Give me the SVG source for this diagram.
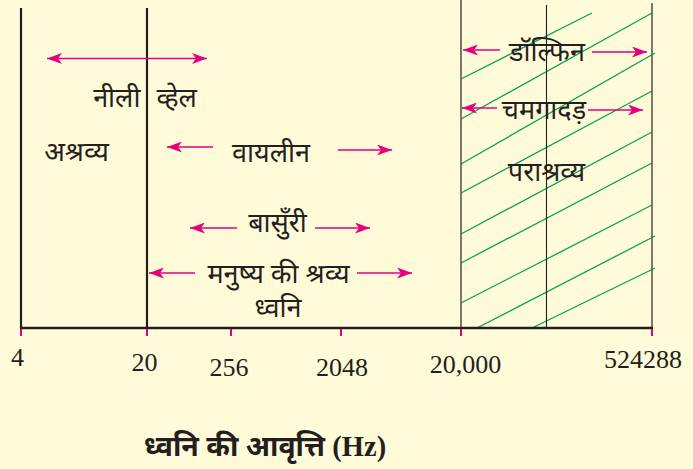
<svg xmlns="http://www.w3.org/2000/svg" width="693" height="469" viewBox="0 0 693 469">
<style>
.dv{font-family:"Noto Sans Devanagari","Lohit Devanagari","Noto Sans",sans-serif;font-size:27px;fill:#231f20;text-anchor:middle}
.num{font-family:"Liberation Serif",serif;font-size:26px;fill:#231f20;text-anchor:middle}
.arr{stroke:#e6007e;stroke-width:1.6;fill:none;marker-end:url(#ah)}
.hatch{stroke:#00a651;stroke-width:1.3;fill:none}
.tick{stroke:#e6007e;stroke-width:2}
</style>
<defs>
<marker id="ah" viewBox="0 0 15 11" refX="15" refY="5.5" markerWidth="15" markerHeight="11" markerUnits="userSpaceOnUse" orient="auto-start-reverse">
<path d="M0,0 L15,5.5 L0,11 L4,5.5 z" fill="#e6007e"/>
</marker>
</defs>
<rect width="693" height="469" fill="#fffad8"/>
<g id="hatching">
<line class="hatch" x1="461" y1="79" x2="592" y2="13"/>
<line class="hatch" x1="461" y1="119" x2="652" y2="13"/>
<line class="hatch" x1="461" y1="164" x2="655" y2="53"/>
<line class="hatch" x1="461" y1="193" x2="652" y2="91"/>
<line class="hatch" x1="461" y1="234" x2="652" y2="132"/>
<line class="hatch" x1="461" y1="263" x2="652" y2="163"/>
<line class="hatch" x1="461" y1="303" x2="652" y2="205"/>
<line class="hatch" x1="477" y1="328" x2="655" y2="236"/>
<line class="hatch" x1="532" y1="328" x2="655" y2="268"/>
</g>
<g id="frame">
<line x1="21" y1="8" x2="21" y2="328" stroke="#231f20" stroke-width="2.2"/>
<line x1="147" y1="8" x2="147" y2="328" stroke="#231f20" stroke-width="2.2"/>
<line x1="461" y1="0" x2="461" y2="328" stroke="#5b5850" stroke-width="1.6"/>
<line x1="546.5" y1="5" x2="546.5" y2="328" stroke="#231f20" stroke-width="1.1"/>
<line x1="652" y1="3" x2="652" y2="328" stroke="#5b5850" stroke-width="1.6"/>
<line x1="20" y1="328" x2="653" y2="328" stroke="#231f20" stroke-width="2.5"/>
</g>
<g id="ticks">
<line class="tick" x1="21" y1="329" x2="21" y2="336"/>
<line class="tick" x1="147" y1="329" x2="147" y2="336"/>
<line class="tick" x1="231" y1="329" x2="231" y2="336"/>
<line class="tick" x1="341" y1="329" x2="341" y2="336"/>
<line class="tick" x1="461" y1="329" x2="461" y2="336"/>
<line class="tick" x1="652" y1="329" x2="652" y2="336"/>
</g>
<g id="connectors">
<line class="arr" x1="47" y1="58.5" x2="207" y2="58.5" style="marker-start:url(#ah)"/>
<line class="arr" x1="213" y1="147" x2="167" y2="147"/>
<line class="arr" x1="338" y1="150" x2="392" y2="150"/>
<line class="arr" x1="237" y1="228" x2="190" y2="228"/>
<line class="arr" x1="315" y1="228" x2="370" y2="228"/>
<line class="arr" x1="195" y1="273" x2="149" y2="273"/>
<line class="arr" x1="357" y1="273" x2="412" y2="273"/>
<line class="arr" x1="500" y1="50" x2="463" y2="50"/>
<line class="arr" x1="592" y1="52" x2="647" y2="52"/>
<line class="arr" x1="497" y1="108" x2="462" y2="108"/>
<line class="arr" x1="588" y1="110" x2="643" y2="110"/>
</g>
<g id="blue-whale"><text class="dv" x="145" y="107" word-spacing="9">नीली व्हेल</text></g>
<g id="infrasonic"><text class="dv" x="76.5" y="161">अश्रव्य</text></g>
<g id="violin"><text class="dv" x="271" y="162">वायलीन</text></g>
<g id="flute"><text class="dv" x="277.5" y="232">बासुँरी</text></g>
<g id="human"><text class="dv" x="278.5" y="283">मनुष्य की श्रव्य</text><text class="dv" x="278" y="317">ध्वनि</text></g>
<g id="dolphin"><text class="dv" x="547" y="61">डॉल्फिन</text></g>
<g id="bat"><text class="dv" x="544" y="119">चमगादड़</text></g>
<g id="ultrasonic"><text class="dv" x="546.5" y="181">पराश्रव्य</text></g>
<g id="labels">
<text class="num" x="17.5" y="366">4</text>
<text class="num" x="144.5" y="371">20</text>
<text class="num" x="229" y="376">256</text>
<text class="num" x="342" y="376">2048</text>
<text class="num" x="465.5" y="373">20,000</text>
<text class="num" x="643" y="368">524288</text>
</g>
<g id="title"><text x="265" y="456" text-anchor="middle" fill="#231f20" font-weight="bold" font-size="28.5"><tspan font-family="Noto Sans Devanagari,Lohit Devanagari,Noto Sans,sans-serif">ध्वनि की आवृत्ति </tspan><tspan font-family="Liberation Serif,serif">(Hz)</tspan></text></g>
</svg>
